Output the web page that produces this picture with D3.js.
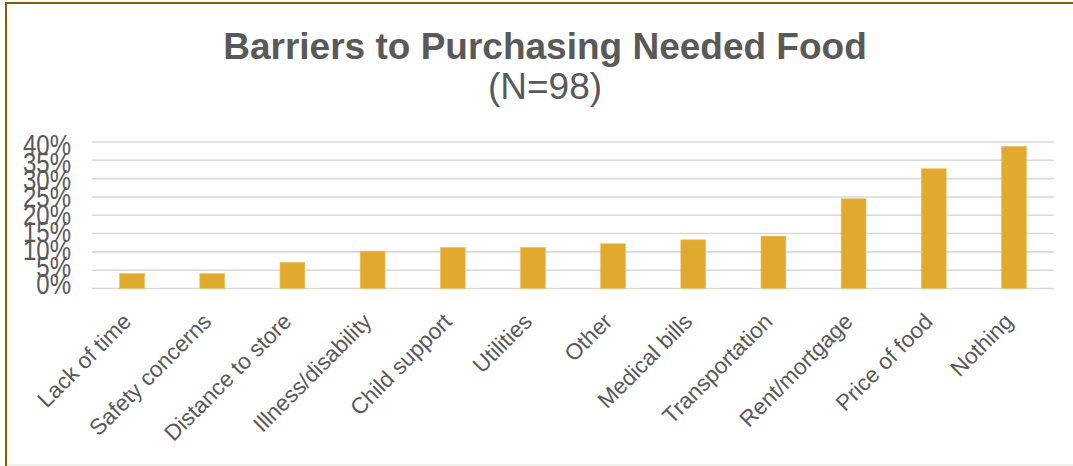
<!DOCTYPE html>
<html><head><meta charset="utf-8">
<script src="https://cdn.jsdelivr.net/npm/d3@7"></script>
<style>html,body{margin:0;padding:0;background:#fff;}svg{display:block;}</style>
</head><body>
<svg id="chart" width="1073" height="466"></svg>
<script>
const categories = ["Lack of time","Safety concerns","Distance to store","Illness/disability","Child support","Utilities","Other","Medical bills","Transportation","Rent/mortgage","Price of food","Nothing"];
const values = [0.041,0.041,0.071,0.102,0.112,0.112,0.122,0.133,0.143,0.245,0.327,0.388];
const yTicks = [0,0.05,0.10,0.15,0.20,0.25,0.30,0.35,0.40];
const title = "Barriers to Purchasing Needed Food";
const subtitle = "(N=98)";

(function(){
const W = 1073, H = 466;
const svg = d3.select("#chart");
const textColor = "#595959";

svg.append("rect").attr("x",0).attr("y",0).attr("width",W).attr("height",H).attr("fill","#fff");
svg.append("line").attr("x1",6).attr("x2",W).attr("y1",3).attr("y2",3).attr("stroke","#7f6000").attr("stroke-width",2);
svg.append("line").attr("x1",6).attr("x2",6).attr("y1",2).attr("y2",H).attr("stroke","#7f6000").attr("stroke-width",2);
svg.append("line").attr("x1",7).attr("x2",W).attr("y1",465).attr("y2",465).attr("stroke","#ebebe3").attr("stroke-width",1.5);

svg.append("text").attr("x",545).attr("y",59).attr("text-anchor","middle")
  .attr("font-family","Liberation Sans, Arial, sans-serif").attr("font-weight","bold")
  .attr("font-size",37).attr("fill",textColor).text(title);
svg.append("text").attr("x",545).attr("y",99).attr("text-anchor","middle")
  .attr("font-family","Liberation Sans, Arial, sans-serif")
  .attr("font-size",37).attr("fill",textColor).text(subtitle);

const pLeft = 92, pRight = 1054, pTop = 142, pBottom = 288.5;
const x = d3.scaleBand().domain(categories).range([pLeft,pRight]).paddingInner(0.69).paddingOuter(0.345);
const y = d3.scaleLinear().domain([0,0.4]).range([pBottom,pTop]);
const yLab = d3.scaleLinear().domain([0,0.4]).range([pBottom-5, pTop+2.5]);

svg.append("g").selectAll("line").data(yTicks).join("line")
  .attr("x1",pLeft).attr("x2",pRight)
  .attr("y1",d=>y(d)).attr("y2",d=>y(d))
  .attr("stroke","#d9d9d9").attr("stroke-width",1.6);

const fmt = d3.format(".0%");
svg.append("g").selectAll("text").data(yTicks).join("text")
  .attr("transform",d=>`translate(71,${yLab(d)}) scale(0.8,1)`)
  .attr("text-anchor","end").attr("dy","0.36em")
  .attr("font-family","Liberation Sans, Arial, sans-serif").attr("font-size",30)
  .attr("fill",textColor).text(d=>fmt(d));

svg.append("g").selectAll("rect").data(values).join("rect")
  .attr("x",(d,i)=>x(categories[i]))
  .attr("width",x.bandwidth())
  .attr("y",d=>y(d))
  .attr("height",d=>y(0)-y(d))
  .attr("fill","#e1a92d").attr("stroke","#ebc060").attr("stroke-width",0.6);

svg.append("g").selectAll("text").data(categories).join("text")
  .attr("transform",d=>`translate(${x(d)+x.bandwidth()/2-11},${pBottom+23}) rotate(-45)`)
  .attr("text-anchor","end").attr("dy","0.72em")
  .attr("font-family","Liberation Sans, Arial, sans-serif").attr("font-size",22.5)
  .attr("fill",textColor).text(d=>d);
})();
</script>
</body></html>
